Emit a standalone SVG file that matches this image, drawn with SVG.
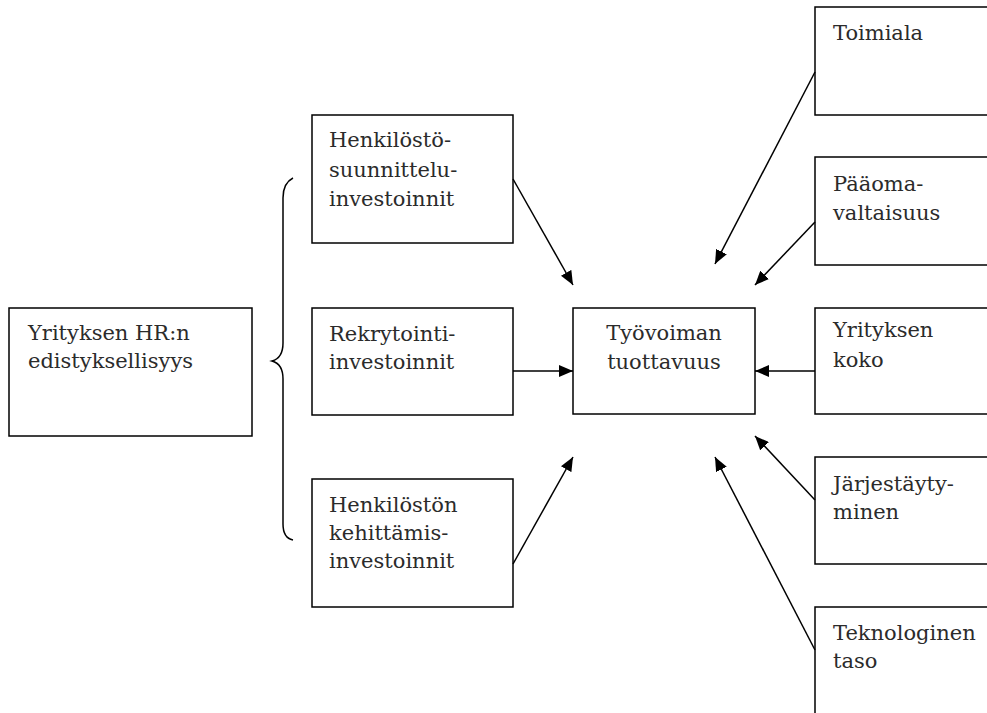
<svg xmlns="http://www.w3.org/2000/svg" width="987" height="713" viewBox="0 0 987 713">
  <style>
    .box { fill: #fff; stroke: #000; stroke-width: 1.5; }
    .lbl { font-family: "DejaVu Serif", "Liberation Serif", serif; font-size: 21px; fill: #2b2b2b; }
    .mid { text-anchor: middle; }
    .edge { fill: none; stroke: #000; stroke-width: 1.5; }
  </style>
  <defs>
    <marker id="arrow" markerUnits="userSpaceOnUse" markerWidth="15" markerHeight="12" refX="14" refY="6" orient="auto">
      <path d="M0,0 L14,6 L0,12 Z" fill="#000"/>
    </marker>
  </defs>
  <rect width="987" height="713" fill="#fff"/>

  <!-- left: HR sophistication -->
  <g id="node-hr">
    <rect class="box" x="9" y="308" width="243" height="128"/>
    <text class="lbl" x="28" y="340">Yrityksen HR:n</text>
    <text class="lbl" x="28" y="368">edistyksellisyys</text>
  </g>

  <!-- curly brace grouping the three investment types -->
  <g id="brace">
    <path class="edge" d="M293,178 Q283,183 283,198 L283,343 Q283,358 272,361 Q283,364 283,379 L283,524 Q283,538 293,540"/>
  </g>

  <!-- investment boxes -->
  <g id="node-planning">
    <rect class="box" x="312" y="115" width="201" height="128"/>
    <text class="lbl" x="329" y="147">Henkilöstö-</text>
    <text class="lbl" x="329" y="177">suunnittelu-</text>
    <text class="lbl" x="329" y="206">investoinnit</text>
  </g>
  <g id="node-recruit">
    <rect class="box" x="312" y="308" width="201" height="107"/>
    <text class="lbl" x="329" y="341">Rekrytointi-</text>
    <text class="lbl" x="329" y="369">investoinnit</text>
  </g>
  <g id="node-develop">
    <rect class="box" x="312" y="479" width="201" height="128"/>
    <text class="lbl" x="329" y="512">Henkilöstön</text>
    <text class="lbl" x="329" y="540">kehittämis-</text>
    <text class="lbl" x="329" y="568">investoinnit</text>
  </g>

  <!-- centre: labour productivity -->
  <g id="node-productivity">
    <rect class="box" x="573" y="308" width="182" height="106"/>
    <text class="lbl mid" x="664" y="340">Työvoiman</text>
    <text class="lbl mid" x="664" y="369">tuottavuus</text>
  </g>

  <!-- right: control factors -->
  <g id="node-industry">
    <rect class="box" x="815" y="7" width="200" height="108"/>
    <text class="lbl" x="833" y="40">Toimiala</text>
  </g>
  <g id="node-capital">
    <rect class="box" x="815" y="157" width="200" height="108"/>
    <text class="lbl" x="833" y="191">Pääoma-</text>
    <text class="lbl" x="833" y="220">valtaisuus</text>
  </g>
  <g id="node-size">
    <rect class="box" x="815" y="308" width="200" height="106"/>
    <text class="lbl" x="833" y="337">Yrityksen</text>
    <text class="lbl" x="833" y="367">koko</text>
  </g>
  <g id="node-union">
    <rect class="box" x="815" y="457" width="200" height="107"/>
    <text class="lbl" x="833" y="491">Järjestäyty-</text>
    <text class="lbl" x="833" y="519">minen</text>
  </g>
  <g id="node-tech">
    <rect class="box" x="815" y="607" width="200" height="130"/>
    <text class="lbl" x="833" y="640">Teknologinen</text>
    <text class="lbl" x="833" y="668">taso</text>
  </g>

  <!-- connectors -->
  <g id="connectors">
    <line class="edge" x1="513" y1="179" x2="573" y2="285" marker-end="url(#arrow)"/>
    <line class="edge" x1="513" y1="371" x2="573" y2="371" marker-end="url(#arrow)"/>
    <line class="edge" x1="513" y1="564" x2="573" y2="457" marker-end="url(#arrow)"/>
    <line class="edge" x1="815" y1="72" x2="715" y2="264" marker-end="url(#arrow)"/>
    <line class="edge" x1="815" y1="222" x2="755" y2="285" marker-end="url(#arrow)"/>
    <line class="edge" x1="815" y1="371" x2="755" y2="371" marker-end="url(#arrow)"/>
    <line class="edge" x1="815" y1="500" x2="755" y2="436" marker-end="url(#arrow)"/>
    <line class="edge" x1="815" y1="650" x2="715" y2="457" marker-end="url(#arrow)"/>
  </g>
</svg>
